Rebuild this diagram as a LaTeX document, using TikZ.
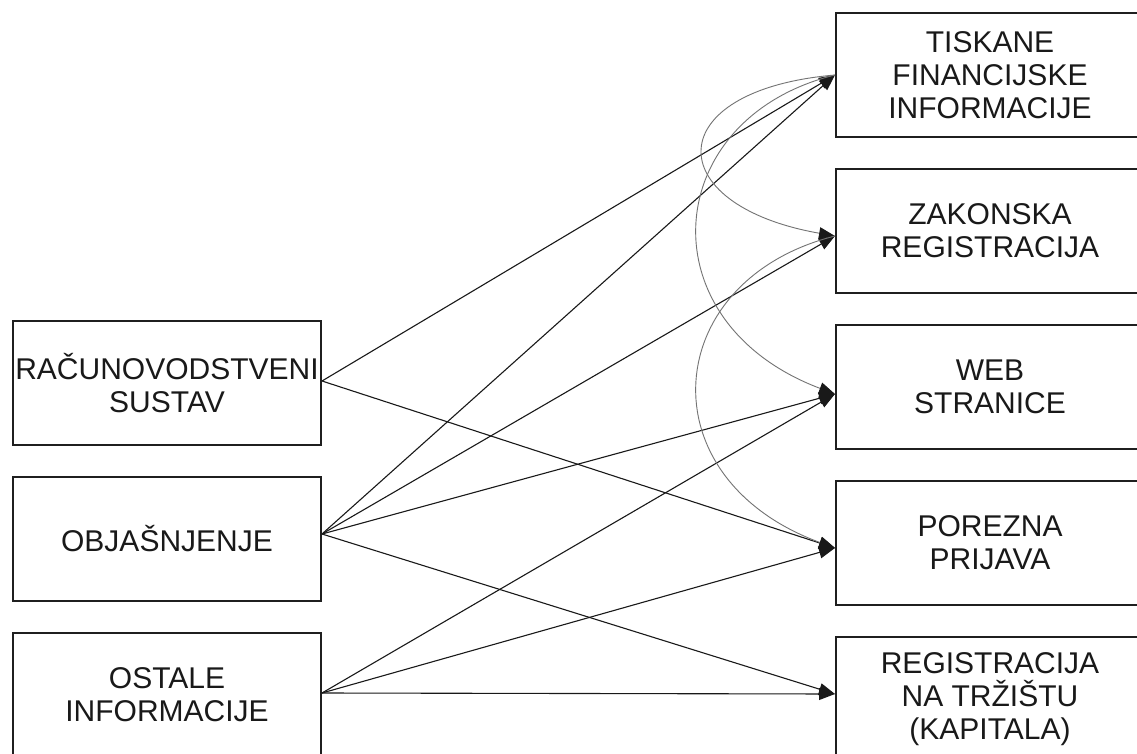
\documentclass[tikz,border=0pt]{standalone}
\usepackage{fontspec}
\setmainfont{Liberation Sans}
\usetikzlibrary{arrows.meta}
\begin{document}
\begin{tikzpicture}[x=1pt,y=-1pt,
  box/.style={draw=black!88, line width=2pt, minimum width=308pt, minimum height=124pt,
    inner sep=0pt, align=center, font=\fontsize{30}{33}\selectfont, text=black!90, anchor=north west},
  link/.style={draw=black!90, line width=1.1pt, -{Triangle[length=16pt,width=12pt,color=black!90]}},
  bendlink/.style={draw=black!55, line width=0.9pt, -{Triangle[length=16pt,width=12pt,color=black!90]}}]
\useasboundingbox (0,0) rectangle (1137,754);
\fill[white] (0,0) rectangle (1137,754);
% left boxes
\node[box] (r) at (12,320) {RAČUNOVODSTVENI\\SUSTAV};
\node[box] (o) at (12,476) {OBJAŠNJENJE};
\node[box] (s) at (12,632) {OSTALE\\INFORMACIJE};
% right boxes
\node[box] (t1) at (835,12) {TISKANE\\FINANCIJSKE\\INFORMACIJE};
\node[box] (t2) at (835,168) {ZAKONSKA\\REGISTRACIJA};
\node[box] (t3) at (835,324) {WEB\\STRANICE};
\node[box] (t4) at (835,480) {POREZNA\\PRIJAVA};
\node[box] (t5) at (835,636) {REGISTRACIJA\\NA TRŽIŠTU\\(KAPITALA)};
% connection points
\coordinate (rs) at ([yshift=2pt]r.east);
\coordinate (os) at ([yshift=5pt]o.east);
\coordinate (ss) at ([yshift=2pt]s.east);
\coordinate (a1) at (t1.west);
\coordinate (a2) at ([yshift=-5pt]t2.west);
\coordinate (a3) at ([yshift=-7pt]t3.west);
\coordinate (a4) at ([yshift=-5pt]t4.west);
\coordinate (a5) at ([yshift=5pt]t5.west);
% straight arrows
\draw[link] (rs) -- (a1);
\draw[link] (rs) -- (a4);
\draw[link] (os) -- (a1);
\draw[link] (os) -- (a2);
\draw[link] (os) -- (a3);
\draw[link] (os) -- (a5);
\draw[link] (ss) -- (a3);
\draw[link] (ss) -- (a4);
\draw[link] (ss) -- (a5);
% curved arrows
\draw[bendlink] (a1) .. controls (659,90) and (659,205) .. (a2);
\draw[bendlink] (a1) .. controls (660,118) and (644,322) .. (a3);
\draw[bendlink] (a2) .. controls (660,280) and (644,478) .. (a4);
\end{tikzpicture}
\end{document}
